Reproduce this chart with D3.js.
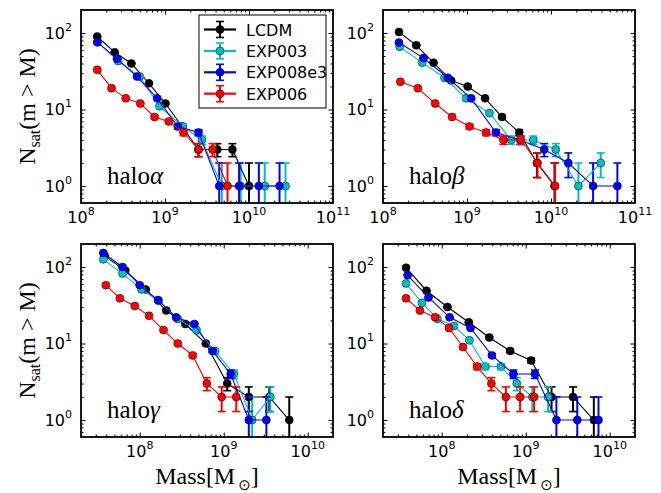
<!DOCTYPE html>
<html>
<head>
<meta charset="utf-8">
<script src="https://cdn.jsdelivr.net/npm/d3@7"></script>
<style>
  body { margin: 0; background: #fff; }
  svg { display: block; }
</style>
</head>
<body>
<svg id="chart" width="661" height="493"></svg>
<script>
// each point: [mass (Msun), N_sat(>M), error on N]
const alphaLCDM = [[1.56e8, 90, 0.11], [2.52e8, 56, 0.13], [3.98e8, 40, 0.16], [6.44e8, 22, 0.21], [1.01e9, 12, 0.29],
  [1.6e9, 6, 0.41], [2.5e9, 3, 0.58], [4.2e9, 3, 0.58], [6.35e9, 3, 0.58], [1.0e10, 1, 1]];
const alphaEXP003 = [[1.58e8, 76, 0.12], [2.77e8, 43, 0.15], [5.0e8, 27, 0.19], [8.6e8, 11, 0.3], [1.63e9, 6, 0.41],
  [2.75e9, 4, 0.5], [4.75e9, 1, 1], [7.96e9, 1, 1], [1.54e10, 1, 1], [2.72e10, 1, 1]];
const alphaEXP008e3 = [[1.56e8, 76, 0.12], [2.69e8, 46, 0.15], [4.64e8, 27, 0.19], [8.07e8, 14, 0.27], [1.42e9, 6, 0.41],
  [2.51e9, 5, 0.45], [4.42e9, 1, 1], [7.62e9, 1, 1], [1.31e10, 1, 1], [2.31e10, 1, 1]];
const alphaEXP006 = [[1.56e8, 33, 0.17], [2.31e8, 19, 0.23], [3.41e8, 14, 0.27], [5.08e8, 12, 0.29], [7.51e8, 8, 0.35],
  [1.11e9, 7, 0.38], [1.66e9, 5, 0.45], [2.51e9, 3, 0.58], [3.68e9, 3, 0.58], [5.55e9, 1, 1]];

const betaLCDM = [[1.55e8, 103, 0.1], [2.49e8, 69, 0.12], [3.99e8, 41, 0.16], [6.47e8, 24, 0.2], [1.02e9, 20, 0.22],
  [1.64e9, 14, 0.27], [2.61e9, 8, 0.35], [4.19e9, 5, 0.45], [6.8e9, 2, 0.71], [1.1e10, 1, 1]];
const betaEXP003 = [[1.58e8, 66, 0.12], [2.93e8, 41, 0.16], [5.4e8, 26, 0.2], [9.76e8, 14, 0.27], [1.85e9, 9, 0.33],
  [3.35e9, 4, 0.5], [6.16e9, 4, 0.5], [1.14e10, 3, 0.58], [2.12e10, 1, 1], [3.91e10, 2, 0.71]];
const betaEXP008e3 = [[1.55e8, 75, 0.12], [3.04e8, 47, 0.15], [5.91e8, 26, 0.2], [1.12e9, 14, 0.27], [2.21e9, 5, 0.45],
  [4.3e9, 4, 0.5], [8.3e9, 3, 0.58], [1.61e10, 2, 0.71], [3.17e10, 1, 1], [6.17e10, 1, 1]];
const betaEXP006 = [[1.61e8, 23, 0.21], [2.6e8, 19, 0.23], [4.18e8, 12, 0.29], [6.65e8, 8, 0.35], [1.07e9, 6, 0.41],
  [1.69e9, 5, 0.45], [2.71e9, 4, 0.5], [4.39e9, 4, 0.5], [6.92e9, 2, 0.71], [1.12e10, 1, 1]];

const gammaLCDM = [[3.83e7, 140, 0.08], [6.71e7, 90, 0.11], [1.18e8, 51, 0.14], [2.07e8, 27, 0.19], [3.49e8, 18, 0.24],
  [6.12e8, 10, 0.32], [1.1e9, 3, 0.58], [1.99e9, 2, 0.71], [3.49e9, 2, 0.71], [6.03e9, 1, 1]];
const gammaEXP003 = [[3.69e7, 126, 0.09], [6.24e7, 82, 0.11], [1.05e8, 51, 0.14], [1.69e8, 36, 0.17], [2.84e8, 21, 0.22],
  [4.75e8, 15, 0.26], [7.9e8, 8, 0.35], [1.32e9, 4, 0.5], [2.18e9, 1, 1], [3.59e9, 2, 0.71]];
const gammaEXP008e3 = [[3.69e7, 153, 0.08], [6.24e7, 100, 0.1], [1.0e8, 58, 0.13], [1.65e8, 37, 0.16], [2.71e8, 22, 0.21],
  [4.47e8, 18, 0.24], [7.35e8, 8, 0.35], [1.21e9, 4, 0.5], [1.99e9, 1, 1], [3.22e9, 1, 1]];
const gammaEXP006 = [[3.96e7, 58, 0.13], [5.81e7, 39, 0.16], [8.73e7, 31, 0.18], [1.29e8, 23, 0.21], [1.92e8, 15, 0.26],
  [2.84e8, 10, 0.32], [4.27e8, 7, 0.38], [6.3e8, 3, 0.58], [9.46e8, 2, 0.71], [1.41e9, 2, 0.71]];

const deltaLCDM = [[3.76e7, 98, 0.1], [6.59e7, 49, 0.14], [1.17e8, 30, 0.18], [2.1e8, 19, 0.23], [3.69e8, 12, 0.29],
  [6.53e8, 8, 0.35], [1.16e9, 6, 0.41], [2.03e9, 2, 0.71], [3.66e9, 2, 0.71], [6.47e9, 1, 1]];
const deltaEXP003 = [[3.76e7, 61, 0.13], [5.81e7, 34, 0.17], [8.9e7, 21, 0.22], [1.4e8, 17, 0.24], [2.14e8, 11, 0.3],
  [3.31e8, 5, 0.45], [5.07e8, 5, 0.45], [7.83e8, 3, 0.58], [1.2e9, 2, 0.71], [1.85e9, 2, 0.71]];
const deltaEXP008e3 = [[3.93e7, 78, 0.11], [6.96e7, 40, 0.16], [1.24e8, 22, 0.21], [2.2e8, 16, 0.25], [3.96e8, 7, 0.38],
  [7.14e8, 4, 0.5], [1.29e9, 4, 0.5], [2.32e9, 1, 1], [4.11e9, 1, 1], [7.35e9, 1, 1]];
const deltaEXP006 = [[3.76e7, 39, 0.16], [5.5e7, 27, 0.19], [8.34e7, 22, 0.21], [1.22e8, 16, 0.25], [1.79e8, 9, 0.33],
  [2.64e8, 5, 0.45], [3.9e8, 3, 0.58], [5.81e8, 2, 0.71], [8.57e8, 2, 0.71], [1.26e9, 2, 0.71]];

const seriesNames = ["LCDM", "EXP003", "EXP008e3", "EXP006"];
const seriesColors = ["#000000", "#00bfbf", "#0000ff", "#ff0000"];
const yDomain = [0.6, 200];
const yTickValues = [1, 10, 100];
const topXDomain = [1e8, 1e11];
const topXTicks = [1e8, 1e9, 1e10, 1e11];
const bottomXDomain = [2e7, 2e10];
const bottomXTicks = [1e8, 1e9, 1e10];

const svg = d3.select("#chart");
const W = 252, H = 193;
const serif = "'Liberation Serif', 'DejaVu Serif', serif";
const sans = "'DejaVu Sans', sans-serif";

const panels = [
  { halo: "α", left: 81, top: 10, xDomain: topXDomain, xTicks: topXTicks,
    series: [alphaLCDM, alphaEXP003, alphaEXP008e3, alphaEXP006], ylabel: true, xlabel: false },
  { halo: "β", left: 383, top: 10, xDomain: topXDomain, xTicks: topXTicks,
    series: [betaLCDM, betaEXP003, betaEXP008e3, betaEXP006], ylabel: false, xlabel: false },
  { halo: "γ", left: 81, top: 244, xDomain: bottomXDomain, xTicks: bottomXTicks,
    series: [gammaLCDM, gammaEXP003, gammaEXP008e3, gammaEXP006], ylabel: true, xlabel: true },
  { halo: "δ", left: 383, top: 244, xDomain: bottomXDomain, xTicks: bottomXTicks,
    series: [deltaLCDM, deltaEXP003, deltaEXP008e3, deltaEXP006], ylabel: false, xlabel: true }
];

// minor log ticks (2..9 x decade) strictly inside a domain
function minorTicks(domain) {
  const out = [];
  for (let e = Math.floor(Math.log10(domain[0])); e <= Math.ceil(Math.log10(domain[1])); e++) {
    for (let k = 2; k <= 9; k++) {
      const v = k * Math.pow(10, e);
      if (v > domain[0] * 1.001 && v < domain[1] * 0.999) out.push(v);
    }
  }
  return out;
}

function powLabel(sel, v) {
  sel.append("tspan").text("10");
  sel.append("tspan").attr("font-size", "11px").attr("dy", -8).text(Math.round(Math.log10(v)));
}

panels.forEach((p, i) => {
  const g = svg.append("g").attr("transform", `translate(${p.left},${p.top})`);
  const x = d3.scaleLog().domain(p.xDomain).range([0, W]);
  const y = d3.scaleLog().domain(yDomain).range([H, 0]);

  svg.append("defs").append("clipPath").attr("id", "clip" + i)
    .append("rect").attr("width", W).attr("height", H);
  const plot = g.append("g").attr("clip-path", `url(#clip${i})`);

  // error bars of all series go under all lines and markers
  p.series.forEach((data, s) => {
    plot.append("g").selectAll("line").data(data).join("line")
      .attr("x1", d => x(d[0])).attr("x2", d => x(d[0]))
      .attr("y1", d => y(d[1] + d[2]))
      .attr("y2", d => d[1] - d[2] > 0 ? y(d[1] - d[2]) : H + 10)
      .attr("stroke", seriesColors[s]).attr("stroke-width", 2);
  });

  const line = d3.line().x(d => x(d[0])).y(d => y(d[1]));
  p.series.forEach((data, s) => {
    const c = seriesColors[s];
    const sg = plot.append("g");
    sg.append("path").datum(data).attr("d", line)
      .attr("fill", "none").attr("stroke", c).attr("stroke-width", 1.1);
    sg.selectAll("circle").data(data).join("circle")
      .attr("cx", d => x(d[0])).attr("cy", d => y(d[1])).attr("r", 4)
      .attr("fill", c).attr("stroke", "#000").attr("stroke-width", 0.5);
    const caps = [];
    data.forEach(d => {
      caps.push([d[0], d[1] + d[2]]);
      if (d[1] - d[2] > 0) caps.push([d[0], d[1] - d[2]]);
    });
    sg.selectAll("line.cap").data(caps).join("line").attr("class", "cap")
      .attr("x1", d => x(d[0]) - 4).attr("x2", d => x(d[0]) + 4)
      .attr("y1", d => y(d[1])).attr("y2", d => y(d[1]))
      .attr("stroke", c).attr("stroke-width", 1.6);
  });

  // ticks on all four sides, pointing inward
  const xm = minorTicks(p.xDomain), ym = minorTicks(yDomain);
  const axes = [
    [d3.axisBottom(x).tickValues(p.xTicks), `translate(0,${H})`, xm],
    [d3.axisTop(x).tickValues(p.xTicks), "translate(0,0)", xm],
    [d3.axisLeft(y).tickValues(yTickValues), "translate(0,0)", ym],
    [d3.axisRight(y).tickValues(yTickValues), `translate(${W},0)`, ym]
  ];
  axes.forEach(([ax, tr, minors]) => {
    const a = g.append("g").attr("transform", tr).call(ax.tickSize(-4.5).tickFormat(""));
    a.select(".domain").remove();
    const b = g.append("g").attr("transform", tr).call(ax.tickValues(minors).tickSize(-2.5).tickFormat(""));
    b.select(".domain").remove();
  });
  g.selectAll(".tick line").attr("stroke", "#000").attr("stroke-width", 1);

  g.append("rect").attr("width", W).attr("height", H)
    .attr("fill", "none").attr("stroke", "#000").attr("stroke-width", 1.8);

  // tick labels
  p.xTicks.forEach(v => {
    const t = g.append("text").attr("x", x(v)).attr("y", H + 20)
      .attr("text-anchor", "middle").style("font-family", sans).style("font-size", "16px");
    powLabel(t, v);
  });
  yTickValues.forEach(v => {
    const t = g.append("text").attr("x", -9).attr("y", y(v) + 5.5)
      .attr("text-anchor", "end").style("font-family", sans).style("font-size", "16px");
    powLabel(t, v);
  });

  // halo name
  const h = g.append("text").attr("x", 26).attr("y", H - 19)
    .style("font-family", serif).style("font-size", "25px");
  h.append("tspan").text("halo");
  h.append("tspan").style("font-style", "italic").text(p.halo);

  if (p.ylabel) {
    const t = svg.append("text")
      .attr("transform", `translate(35,${p.top + H / 2}) rotate(-90)`)
      .attr("text-anchor", "middle").style("font-family", serif).style("font-size", "24px");
    t.append("tspan").text("N");
    t.append("tspan").attr("font-size", "16px").attr("dy", 5).text("sat");
    t.append("tspan").attr("dy", -5).text("(m > M)");
  }
  if (p.xlabel) {
    const t = svg.append("text").attr("x", p.left + W / 2).attr("y", 484)
      .attr("text-anchor", "middle").style("font-family", serif).style("font-size", "24px");
    t.append("tspan").text("Mass[M");
    t.append("tspan").attr("font-size", "15px").attr("dx", 3).attr("dy", 6)
      .style("font-family", "'DejaVu Sans', sans-serif").text("\u2299");
    t.append("tspan").attr("dy", -6).text("]");
  }

  // legend in the first panel
  if (i === 0) {
    const lg = g.append("g").attr("transform", "translate(118,5)");
    lg.append("rect").attr("width", 127).attr("height", 93)
      .attr("fill", "#fff").attr("stroke", "#000").attr("stroke-width", 1);
    seriesNames.forEach((name, s) => {
      const c = seriesColors[s];
      const ey = 14.5 + s * 21.4;
      lg.append("line").attr("x1", 5).attr("x2", 37).attr("y1", ey).attr("y2", ey)
        .attr("stroke", c).attr("stroke-width", 2.2);
      lg.append("line").attr("x1", 21).attr("x2", 21).attr("y1", ey - 8).attr("y2", ey + 8)
        .attr("stroke", c).attr("stroke-width", 2);
      [ey - 8, ey + 8].forEach(cy => lg.append("line").attr("x1", 17).attr("x2", 25)
        .attr("y1", cy).attr("y2", cy).attr("stroke", c).attr("stroke-width", 1.6));
      lg.append("circle").attr("cx", 21).attr("cy", ey).attr("r", 4)
        .attr("fill", c).attr("stroke", "#000").attr("stroke-width", 0.5);
      lg.append("text").attr("x", 47).attr("y", ey + 6)
        .style("font-family", sans).style("font-size", "16px").text(name);
    });
  }
});
</script>
</body>
</html>
